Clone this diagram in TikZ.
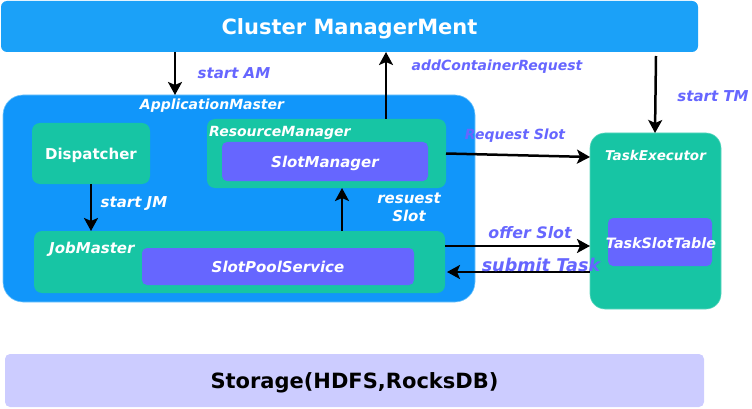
\documentclass[tikz,border=0pt]{standalone}
\usepackage{fontspec}
\setmainfont{DejaVu Sans}[ItalicFont={DejaVu Sans Oblique},BoldItalicFont={DejaVu Sans Bold Oblique}]
\usetikzlibrary{arrows.meta,calc}
\definecolor{topblue}{RGB}{27,161,248}
\definecolor{amblue}{RGB}{17,150,250}
\definecolor{tealg}{RGB}{23,197,164}
\definecolor{violetb}{RGB}{102,102,255}
\definecolor{lavend}{RGB}{204,204,255}
\definecolor{lblpurple}{RGB}{102,102,255}
\tikzset{
  box/.style={anchor=north west, inner sep=0pt, outer sep=0pt, text=white, font=\bfseries, text depth=0pt},
  arr/.style={line width=2.5pt, -{Stealth[length=13pt,width=14pt,inset=3pt]}},
  plbl/.style={text=lblpurple, font=\fontsize{15}{18}\selectfont\bfseries\itshape, inner sep=0pt, text depth=0pt},
  wlbl/.style={text=white, font=\fontsize{15}{18}\selectfont\bfseries\itshape, inner sep=0pt, text depth=0pt},
}
\begin{document}
\begin{tikzpicture}[x=1pt,y=-1pt]
\useasboundingbox (0,0) rectangle (752,409);
% top bar
\node[box, fill=topblue, rounded corners=6pt, minimum width=697pt, minimum height=51pt,
  font=\fontsize{21}{25}\selectfont\bfseries] (cm) at (1,1) {Cluster ManagerMent};
% storage
\node[box, fill=lavend, rounded corners=5pt, minimum width=699pt, minimum height=53pt,
  text=black, font=\fontsize{21}{25}\selectfont\bfseries] (st) at (5,354) {Storage(HDFS,RocksDB)};
% application master
\node[box, fill=amblue, draw=topblue!60!white, line width=0.6pt, rounded corners=20pt, minimum width=472pt, minimum height=207pt] (am) at (3,95) {};
\node[wlbl, font=\fontsize{14}{17}\selectfont\bfseries\itshape] (amlbl) at (212,104) {ApplicationMaster};
% dispatcher
\node[box, fill=tealg, rounded corners=8pt, minimum width=118pt, minimum height=61pt,
  font=\fontsize{15}{18}\selectfont\bfseries] (disp) at (32,123) {Dispatcher};
% resource manager
\node[box, fill=tealg, rounded corners=8pt, minimum width=239pt, minimum height=69pt] (rm) at (207,119) {};
\node[wlbl, anchor=west, font=\fontsize{14}{17}\selectfont\bfseries\itshape] (rmlbl) at (209,131) {ResourceManager};
\node[box, fill=violetb, rounded corners=5pt, minimum width=206pt, minimum height=39pt,
  font=\fontsize{15}{18}\selectfont\bfseries\itshape] (sm) at (222,142) {SlotManager};
% job master
\node[box, fill=tealg, rounded corners=8pt, minimum width=411pt, minimum height=62pt] (jm) at (34,231) {};
\node[wlbl, anchor=west] (jmlbl) at (49,248) {JobMaster};
\node[box, fill=violetb, rounded corners=5pt, minimum width=272pt, minimum height=37pt,
  font=\fontsize{15}{18}\selectfont\bfseries\itshape] (sps) at (142,248) {SlotPoolService};
% task executor
\node[box, fill=tealg, draw=tealg!70!white, line width=0.6pt, rounded corners=15pt, minimum width=131pt, minimum height=176pt] (te) at (590,133) {};
\node[wlbl, font=\fontsize{13.5}{16}\selectfont\bfseries\itshape] (telbl) at (655.5,155) {TaskExecutor};
\node[box, fill=violetb, rounded corners=5pt, minimum width=104pt, minimum height=48pt] (tst) at (608,218) {};
\node[wlbl, font=\fontsize{14.3}{17}\selectfont\bfseries\itshape] (tstlbl) at (661,243) {TaskSlotTable};
% helper coordinates
\coordinate (xam) at (175,0);
\coordinate (xac) at (386,0);
\coordinate (xtm) at (655,0);
\coordinate (xrs) at (342,0);
\coordinate (yrq) at (0,157);
\coordinate (yof) at (0,246);
\coordinate (ysb) at (0,272);
% arrows
\draw[arr] (xam |- cm.south) -- (xam |- am.north);
\draw[arr] (xac |- rm.north) -- (xac |- cm.south);
\draw[arr] ($(xtm |- cm.south)+(1,4)$) -- (xtm |- te.north);
\draw[arr] (rm.east) -- (te.west |- yrq);
\draw[arr] (disp.south) -- (disp.south |- jm.north);
\draw[arr] (xrs |- jm.north) -- (xrs |- rm.south);
\draw[arr] (jm.east |- yof) -- (te.west |- yof);
\draw[arr] (te.west |- ysb) -- ($(jm.east |- ysb)+(2,0)$);
% labels
\node[plbl] (l1) at (234,73) {start AM};
\node[plbl, font=\fontsize{14}{17}\selectfont\bfseries\itshape] (l2) at (497,65) {addContainerRequest};
\node[plbl] (l3) at (713,96) {start TM};
\node[plbl, font=\fontsize{14}{17}\selectfont\bfseries\itshape] (l4) at (515,134) {Request Slot};
\node[wlbl] (l5) at (134,202) {start JM};
\node[wlbl, align=center, font=\fontsize{15}{18}\selectfont\bfseries\itshape] (l6) at (409,207) {resuest\\Slot};
\node[plbl, font=\fontsize{15.8}{19}\selectfont\bfseries\itshape] (l7) at (530,232) {offer Slot};
\node[plbl, font=\fontsize{17.6}{21}\selectfont\bfseries\itshape] (l8) at (541,265) {submit Task};
\end{tikzpicture}
\end{document}
